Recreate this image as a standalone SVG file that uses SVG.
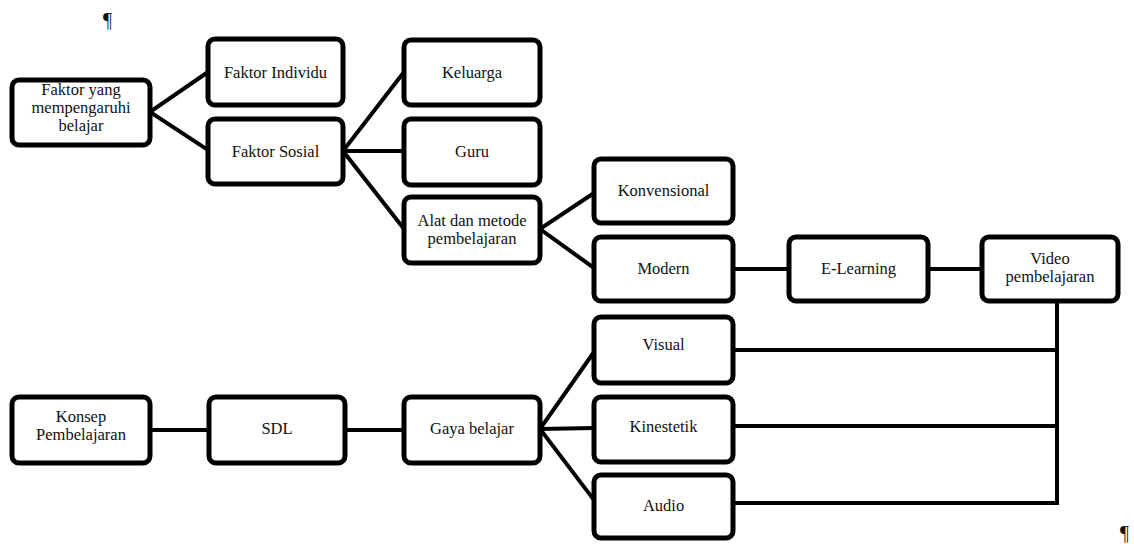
<svg xmlns="http://www.w3.org/2000/svg" width="1134" height="547" viewBox="0 0 1134 547">
<style>
.box{fill:#fff;stroke:#000;stroke-width:5}
.lbl{font-family:'Liberation Serif','DejaVu Serif','Times New Roman',serif;font-size:16.5px;fill:#111;text-anchor:middle}
.con{stroke:#000;stroke-width:4;fill:none;stroke-linecap:square}
.pil{font-family:'Liberation Serif','DejaVu Serif',serif;font-size:20px;fill:#111}
</style>
<rect width="1134" height="547" fill="#fff"/>
<text class="pil" x="103" y="27">¶</text>
<text class="pil" x="1120" y="540">¶</text>
<g id="connectors">
<path class="con" d="M150,112 L208,72 M150,112 L208,150"/>
<path class="con" d="M343,151 L404,72 M343,151 L404,151 M343,151 L404,229"/>
<path class="con" d="M540,229 L594,193 M540,229 L594,268"/>
<path class="con" d="M733,269 L789,269 M928,269 L982,269"/>
<path class="con" d="M540,429 L594,352 M540,429 L594,428 M540,429 L594,500"/>
<path class="con" d="M150,430 L209,430 M345,430 L404,430"/>
<path class="con" d="M1057,301 L1057,503 M733,350 L1057,350 M733,426 L1057,426 M733,503 L1057,503"/>
</g>
<g id="n1"><rect class="box" x="12" y="80" width="138" height="65" rx="7"/><text class="lbl" x="81" y="95">Faktor yang</text><text class="lbl" x="81" y="113">mempengaruhi</text><text class="lbl" x="81" y="131">belajar</text></g>
<g id="n2"><rect class="box" x="208" y="39" width="135" height="66" rx="7"/><text class="lbl" x="275.5" y="78">Faktor Individu</text></g>
<g id="n3"><rect class="box" x="208" y="119" width="135" height="65" rx="7"/><text class="lbl" x="275.5" y="157">Faktor Sosial</text></g>
<g id="n4"><rect class="box" x="404" y="40" width="136" height="65" rx="7"/><text class="lbl" x="472" y="78">Keluarga</text></g>
<g id="n5"><rect class="box" x="404" y="119" width="136" height="66" rx="7"/><text class="lbl" x="472" y="157">Guru</text></g>
<g id="n6"><rect class="box" x="404" y="197" width="136" height="66" rx="7"/><text class="lbl" x="472" y="226">Alat dan metode</text><text class="lbl" x="472" y="244">pembelajaran</text></g>
<g id="n7"><rect class="box" x="594" y="159" width="139" height="64" rx="7"/><text class="lbl" x="663.5" y="196">Konvensional</text></g>
<g id="n8"><rect class="box" x="594" y="237" width="139" height="64" rx="7"/><text class="lbl" x="663.5" y="274">Modern</text></g>
<g id="n9"><rect class="box" x="789" y="237" width="139" height="64" rx="7"/><text class="lbl" x="858.5" y="274">E-Learning</text></g>
<g id="n10"><rect class="box" x="982" y="237" width="136" height="64" rx="7"/><text class="lbl" x="1050" y="264">Video</text><text class="lbl" x="1050" y="282">pembelajaran</text></g>
<g id="n11"><rect class="box" x="594" y="317" width="139" height="66" rx="7"/><text class="lbl" x="663.5" y="350">Visual</text></g>
<g id="n12"><rect class="box" x="594" y="397" width="139" height="65" rx="7"/><text class="lbl" x="663.5" y="432">Kinestetik</text></g>
<g id="n13"><rect class="box" x="594" y="475" width="139" height="63" rx="7"/><text class="lbl" x="663.5" y="511">Audio</text></g>
<g id="n14"><rect class="box" x="12" y="397" width="138" height="66" rx="7"/><text class="lbl" x="81" y="422">Konsep</text><text class="lbl" x="81" y="440">Pembelajaran</text></g>
<g id="n15"><rect class="box" x="209" y="397" width="136" height="66" rx="7"/><text class="lbl" x="277" y="434">SDL</text></g>
<g id="n16"><rect class="box" x="404" y="397" width="136" height="66" rx="7"/><text class="lbl" x="472" y="434">Gaya belajar</text></g>
</svg>
